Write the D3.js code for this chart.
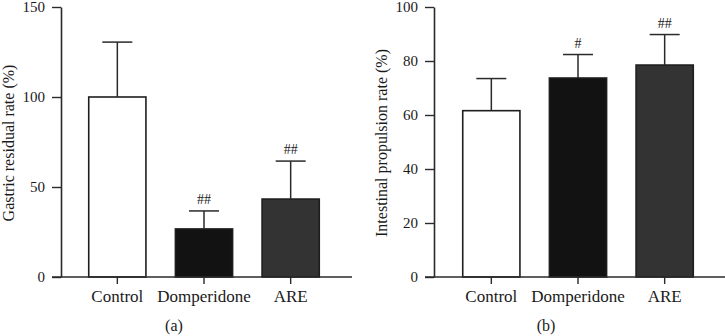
<!DOCTYPE html>
<html>
<head>
<meta charset="utf-8">
<script src="https://cdn.jsdelivr.net/npm/d3@7"></script>
<style>
  body { margin: 0; background: #fff; }
  svg { display: block; font-family: "Liberation Serif", "Times New Roman", serif; }
</style>
</head>
<body>
<div id="chart"></div>
<script>
// Data
const groups = ["Control", "Domperidone", "ARE"];
const barColors = ["#ffffff", "#121212", "#333333"];

const gastricMean = [100, 26.7, 43.3];
const gastricErr = [130.5, 36.7, 64.4];
const gastricMarks = ["", "##", "##"];
const gastricTicks = [0, 50, 100, 150];

const intestMean = [61.6, 73.7, 78.5];
const intestErr = [73.5, 82.4, 89.8];
const intestMarks = ["", "#", "##"];
const intestTicks = [0, 20, 40, 60, 80, 100];

const svg = d3.select("#chart").append("svg")
  .attr("width", 725)
  .attr("height", 336);

const ink = "#2a2a2a";
const serif = "'Liberation Serif', 'Times New Roman', serif";

function drawPanel(opts) {
  const g = svg.append("g");

  const y = d3.scaleLinear()
    .domain([0, opts.yMax])
    .range([opts.bottom, opts.top]);

  const x = d3.scaleBand()
    .domain(groups)
    .range(opts.xRange)
    .paddingInner(0.34)
    .paddingOuter(0.17);

  const rows = groups.map((k, i) => ({
    key: k, mean: opts.mean[i], err: opts.err[i], mark: opts.marks[i], color: barColors[i]
  }));

  // y axis
  const yAxis = g.append("g")
    .attr("transform", `translate(${opts.axisX},0)`)
    .call(d3.axisLeft(y).tickValues(opts.ticks).tickSize(9).tickSizeOuter(0).tickPadding(7));
  yAxis.attr("font-family", null).attr("font-size", null);
  yAxis.select(".domain").attr("stroke", ink).attr("stroke-width", 1.6);
  yAxis.selectAll(".tick line").attr("stroke", ink).attr("stroke-width", 1.4);
  yAxis.selectAll("text")
    .style("font-family", serif)
    .style("font-size", "15px")
    .attr("fill", "#1a1a1a");

  // bars
  g.selectAll(".bar")
    .data(rows)
    .enter().append("rect")
    .attr("x", d => x(d.key))
    .attr("y", d => y(d.mean))
    .attr("width", x.bandwidth())
    .attr("height", d => y(0) - y(d.mean))
    .attr("fill", d => d.color)
    .attr("stroke", "#1e1e1e")
    .attr("stroke-width", 1.6);

  // error bars
  const cx = d => x(d.key) + x.bandwidth() / 2;
  g.selectAll(".err")
    .data(rows)
    .enter().append("line")
    .attr("x1", cx).attr("x2", cx)
    .attr("y1", d => y(d.mean)).attr("y2", d => y(d.err))
    .attr("stroke", ink).attr("stroke-width", 1.5);
  g.selectAll(".cap")
    .data(rows)
    .enter().append("line")
    .attr("x1", d => cx(d) - 15).attr("x2", d => cx(d) + 15)
    .attr("y1", d => y(d.err)).attr("y2", d => y(d.err))
    .attr("stroke", ink).attr("stroke-width", 1.5);

  // significance marks
  g.selectAll(".mark")
    .data(rows)
    .enter().append("text")
    .attr("x", cx)
    .attr("y", d => y(d.err) - 7)
    .attr("text-anchor", "middle")
    .style("font-family", serif)
    .style("font-size", "14px")
    .attr("fill", "#1a1a1a")
    .text(d => d.mark);

  // x axis
  const xAxis = g.append("g")
    .attr("transform", `translate(0,${opts.bottom})`)
    .call(d3.axisBottom(x).tickSize(7).tickSizeOuter(0).tickPadding(6));
  xAxis.attr("font-family", null).attr("font-size", null);
  xAxis.select(".domain").remove();
  xAxis.selectAll(".tick line").attr("stroke", ink).attr("stroke-width", 1.4);
  xAxis.selectAll("text")
    .style("font-family", serif)
    .style("font-size", "17px")
    .attr("fill", "#1a1a1a");

  g.append("line")
    .attr("x1", opts.axisX - 9).attr("x2", opts.xEnd)
    .attr("y1", opts.bottom).attr("y2", opts.bottom)
    .attr("stroke", ink).attr("stroke-width", 1.6);

  // y label
  g.append("text")
    .attr("transform", `translate(${opts.labelX},${(opts.top + opts.bottom) / 2 + 1}) rotate(-90)`)
    .attr("text-anchor", "middle")
    .style("font-family", serif)
    .style("font-size", "16px")
    .attr("fill", "#1a1a1a")
    .text(opts.label);

  // panel tag
  g.append("text")
    .attr("x", opts.tagX)
    .attr("y", 331)
    .attr("text-anchor", "middle")
    .style("font-family", serif)
    .style("font-size", "16px")
    .attr("fill", "#1a1a1a")
    .text(opts.tag);
}

drawPanel({
  mean: gastricMean, err: gastricErr, marks: gastricMarks, ticks: gastricTicks,
  yMax: 150, top: 7, bottom: 277, axisX: 61, xRange: [74, 334], xEnd: 352,
  labelX: 14, label: "Gastric residual rate (%)", tagX: 174, tag: "(a)"
});

drawPanel({
  mean: intestMean, err: intestErr, marks: intestMarks, ticks: intestTicks,
  yMax: 100, top: 7, bottom: 277, axisX: 434, xRange: [448, 708], xEnd: 725,
  labelX: 387, label: "Intestinal propulsion rate (%)", tagX: 546, tag: "(b)"
});
</script>
</body>
</html>
